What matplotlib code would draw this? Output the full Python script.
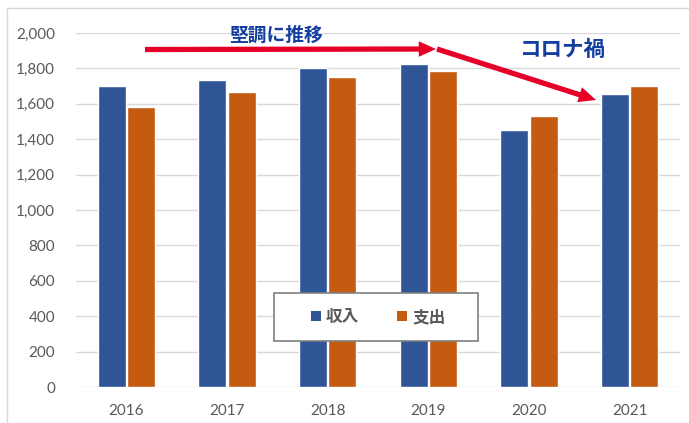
import numpy as np
import matplotlib
matplotlib.use("Agg")
import matplotlib.pyplot as plt
from matplotlib.patches import Rectangle, Patch
from matplotlib.ticker import FuncFormatter

plt.rcParams['font.family'] = ['Noto Sans CJK JP', 'DejaVu Sans']

# data
years = ['2016', '2017', '2018', '2019', '2020', '2021']
income = [1700, 1735, 1805, 1825, 1450, 1655]    # 収入
expense = [1580, 1668, 1752, 1783, 1530, 1700]   # 支出

BLUE = '#2F5597'
ORANGE = '#C55A11'
GRID = '#D9D9D9'
TXT = '#595959'
RED = '#E60028'
NAVY = '#133D9E'

fig = plt.figure(figsize=(6.89, 4.23), dpi=100)
ax = fig.add_axes([76 / 689, 1 - 387 / 423, (680 - 76) / 689, (387 - 33) / 423])

x = np.arange(len(years))
w = 0.28
ax.bar(x - 0.145, income, width=w, color=BLUE, edgecolor='white', linewidth=1, zorder=3, label='収入')
ax.bar(x + 0.145, expense, width=w, color=ORANGE, edgecolor='white', linewidth=1, zorder=3, label='支出')

ax.set_xlim(-0.5, len(years) - 0.5)
ax.set_ylim(0, 2000)
ax.set_yticks(np.arange(0, 2001, 200))
ax.yaxis.set_major_formatter(FuncFormatter(lambda v, p: f'{int(v):,}'))
ax.set_xticks(x)
ax.set_xticklabels(years)
ax.grid(True, axis='y', color=GRID, linewidth=1, zorder=0)
ax.tick_params(length=0, colors=TXT, labelsize=11)
ax.tick_params(axis='y', pad=15)
ax.tick_params(axis='x', pad=12)
for lab in ax.get_xticklabels() + ax.get_yticklabels():
    lab.set_family('Lato')
for s in ax.spines.values():
    s.set_visible(False)

# outer chart border
fig.patches.append(Rectangle((7 / 689, -0.05), 1.0, 1 - 8 / 423 + 0.05, transform=fig.transFigure,
                             fill=False, edgecolor=GRID, linewidth=1))

# annotation arrows
def px2data(px, py):
    return ((px - 76) / 604 * 6 - 0.5, (387 - py) / 354 * 2000)

style = 'simple,head_length=0.62,head_width=0.56,tail_width=0.19'
ax.annotate('', xy=px2data(436, 49), xytext=px2data(145, 49.5),
            arrowprops=dict(arrowstyle=style, color=RED, lw=0, mutation_scale=20,
                            shrinkA=0, shrinkB=0), annotation_clip=False, zorder=6)
ax.annotate('', xy=px2data(596, 100), xytext=px2data(437, 49),
            arrowprops=dict(arrowstyle=style, color=RED, lw=0, mutation_scale=20,
                            shrinkA=0, shrinkB=0), annotation_clip=False, zorder=6)

fig.text(276 / 689, 1 - 35 / 423, '堅調に推移', color=NAVY, fontsize=13.5, fontweight='bold',
         ha='center', va='center')
fig.text(563 / 689, 1 - 49 / 423, 'コロナ禍', color=NAVY, fontsize=15.5, fontweight='bold',
         ha='center', va='center')

# legend box
ax.add_patch(Rectangle((274 / 689, 1 - 341 / 423), 204 / 689, 48 / 423, transform=fig.transFigure,
                       facecolor='white', edgecolor='#7F7F7F', linewidth=1.2, zorder=7, clip_on=False))
handles = [Patch(facecolor=BLUE, label='収入'), Patch(facecolor=ORANGE, label='支出')]
leg = ax.legend(handles=handles, loc='center', bbox_to_anchor=(378 / 689, 1 - 317 / 423),
                bbox_transform=fig.transFigure, ncol=2, frameon=False,
                handlelength=0.6, handleheight=0.6, handletextpad=0.3, columnspacing=2.3,
                prop={'size': 12, 'weight': 'bold'})
leg.set_zorder(8)
for t in leg.get_texts():
    t.set_color(TXT)

fig.savefig('out.png', dpi=100)
